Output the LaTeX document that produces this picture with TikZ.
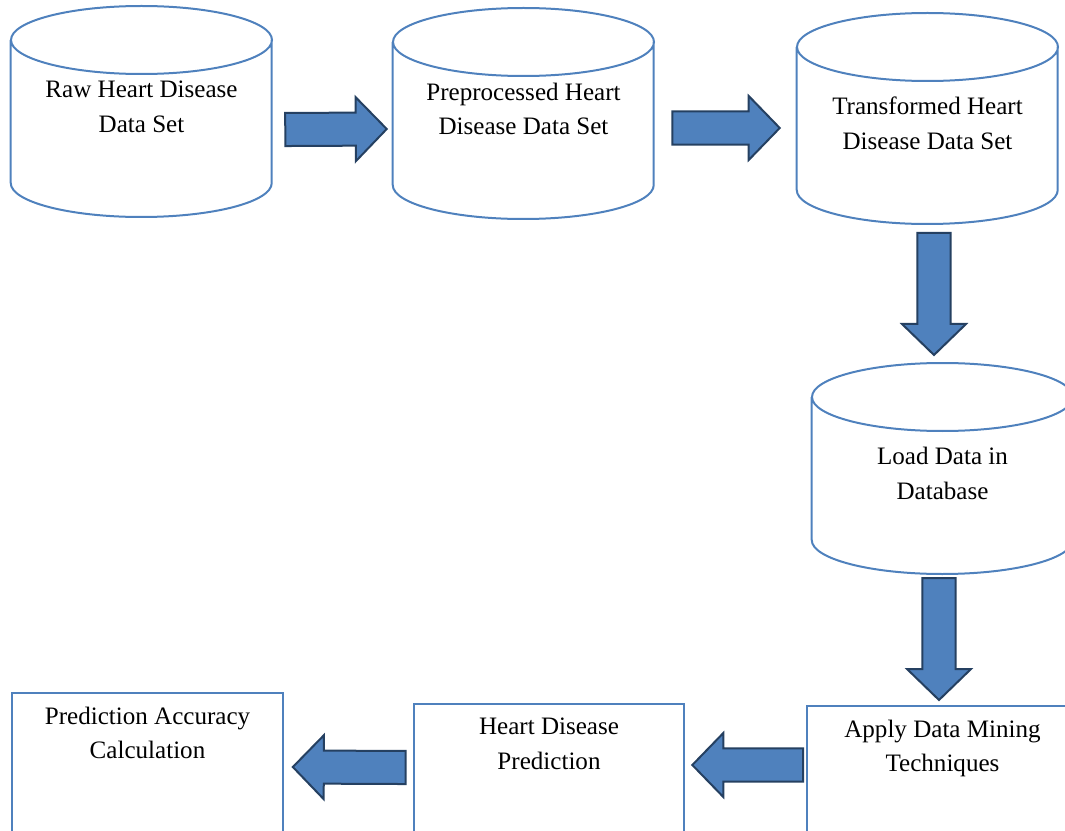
\documentclass[tikz,border=0pt]{standalone}
\usepackage{fontspec}
\setmainfont{Liberation Serif}
\usetikzlibrary{calc}
\definecolor{boxline}{RGB}{79,129,189}
\definecolor{arrowfill}{RGB}{79,129,189}
\definecolor{arrowline}{RGB}{37,64,97}
\newcommand{\flowarrow}[2]{%
    \path #1 coordinate (fa-s) #2 coordinate (fa-t);
    \path ($(fa-t)!23.25pt!(fa-s)$) coordinate (fa-b);
    \draw[blockarrow] ($(fa-s)!12.4pt!90:(fa-t)$) -- ($(fa-b)!12.4pt!90:(fa-t)$)
        -- ($(fa-b)!24pt!90:(fa-t)$) -- (fa-t) -- ($(fa-b)!24pt!-90:(fa-t)$)
        -- ($(fa-b)!12.4pt!-90:(fa-t)$) -- ($(fa-s)!12.4pt!-90:(fa-t)$) -- cycle;
}
\begin{document}
\begin{tikzpicture}[
    x=0.75pt, y=-0.75pt,
    font=\fontsize{18.8pt}{25.9pt}\selectfont,
    datastore/.style={rectangle, align=center, anchor=north,
        minimum width=195.75pt, inner ysep=#1},
    datastore/.default=56pt,
    cylwall/.style={draw=boxline, line width=1.5pt},
    stepbox/.style={rectangle, draw=boxline, line width=1.5pt, align=center,
        anchor=north, minimum width=203pt, text depth=110pt, inner ysep=10.5pt},
    blockarrow/.style={fill=arrowfill, draw=arrowline, line width=1.5pt, line join=miter}
]
\useasboundingbox (0,0) rectangle (1065,831);
\clip (0,0) rectangle (1065,831);
\node[datastore]       (raw)   at (141.5,6)   {Raw Heart Disease\\Data Set};
\node[datastore]       (pre)   at (523.5,8)   {Preprocessed Heart\\Disease Data Set};
\node[datastore=63pt]  (trans) at (927.5,13)  {Transformed Heart\\Disease Data Set};
\node[datastore=63pt]  (load)  at (942.5,363) {Load Data in\\Database};
\foreach \c in {raw,pre,trans,load}
    \draw[cylwall] ($(\c.north west)+(0,34)$) -- ++(0,143)
        arc[start angle=180, end angle=360, x radius=97.875pt, y radius=25.5pt]
        -- ++(0,-143)
        ($(\c.north)+(0,34)$) ellipse[x radius=97.875pt, y radius=25.5pt];
\node[stepbox] (mine) at (942.5,705) {Apply Data Mining\\Techniques};
\node[stepbox] (pred) at (549,703)   {Heart Disease\\Prediction};
\node[stepbox] (acc)  at (147.5,692) {Prediction Accuracy\\Calculation};
\flowarrow{($(raw.north east)+(13,123.5)$)}{($(pre.north west)+(-6,121)$)}
\flowarrow{($(pre.north east)+(18,120)$)}{($(trans.north west)+(-17,115)$)}
\flowarrow{($(trans.north)+(6.5,220)$)}{($(load.north)+(-8.5,-8)$)}
\flowarrow{($(load.north)+(-3.5,215)$)}{($(mine.north)+(-3.5,-5)$)}
\flowarrow{($(mine.north west)+(-3,60)$)}{($(pred.north east)+(7,62)$)}
\flowarrow{($(pred.north west)+(-7,64.5)$)}{($(acc.north east)+(9,75)$)}
\end{tikzpicture}
\end{document}
